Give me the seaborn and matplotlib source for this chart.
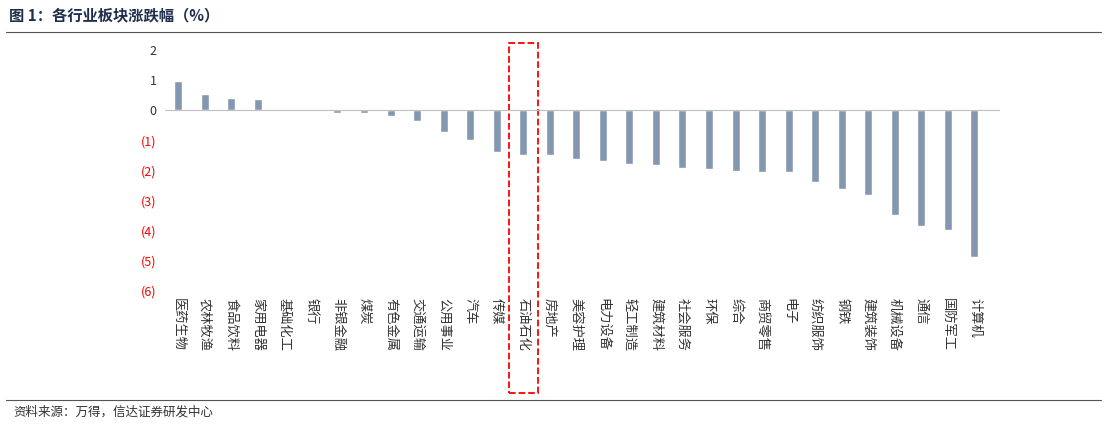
import matplotlib
matplotlib.use("Agg")
import matplotlib.pyplot as plt
import matplotlib.transforms as mtransforms
from matplotlib.patches import Rectangle
import pandas as pd
import seaborn as sns

sns.set_style("white")
plt.rcParams["font.family"] = ["Noto Sans CJK SC", "DejaVu Sans"]
plt.rcParams["axes.unicode_minus"] = False

industries = ["医药生物", "农林牧渔", "食品饮料", "家用电器", "基础化工", "银行", "非银金融", "煤炭",
              "有色金属", "交通运输", "公用事业", "汽车", "传媒", "石油石化", "房地产", "美容护理",
              "电力设备", "轻工制造", "建筑材料", "社会服务", "环保", "综合", "商贸零售", "电子",
              "纺织服饰", "钢铁", "建筑装饰", "机械设备", "通信", "国防军工", "计算机"]
changes = [0.97, 0.55, 0.40, 0.37, 0.01, 0.0, -0.10, -0.10, -0.20, -0.37, -0.73, -1.00, -1.40,
           -1.50, -1.50, -1.63, -1.70, -1.80, -1.83, -1.93, -1.97, -2.03, -2.05, -2.05, -2.40,
           -2.63, -2.83, -3.50, -3.87, -4.00, -4.90]
highlight = "石油石化"
y_ticks = [2, 1, 0, -1, -2, -3, -4, -5, -6]

df = pd.DataFrame({"行业": industries, "涨跌幅": changes})

fig = plt.figure(figsize=(11.07, 4.26), dpi=100)
ax = fig.add_axes([0.149, 0.319, 0.754, 0.563])
sns.barplot(data=df, x="行业", y="涨跌幅", color="#8497B0", width=0.3, ax=ax, saturation=1)

ax.set_xlim(-0.5, 30.95)
ax.set_ylim(-6, 2)
ax.set_yticks(y_ticks)
ax.set_yticklabels([str(v) if v >= 0 else f"({abs(v)})" for v in y_ticks], fontsize=9)
for lab, v in zip(ax.get_yticklabels(), y_ticks):
    lab.set_color("red" if v < 0 else "#333333")
ax.set_xticks(range(len(industries)))
ax.set_xticklabels(industries, fontsize=9.5, color="#333333", rotation=-90,
                   va="top", ha="center")
ax.tick_params(axis="both", length=0, pad=6)
ax.axhline(0, color="#bfbfbf", lw=0.8)
for s in ["top", "right", "bottom", "left"]:
    ax.spines[s].set_visible(False)
ax.set_xlabel("")
ax.set_ylabel("")

# 高亮框
i = industries.index(highlight)
trans = mtransforms.blended_transform_factory(ax.transData, fig.transFigure)
ax.add_patch(Rectangle((i - 0.55, 0.077), 1.1, 0.822, transform=trans, fill=False,
                       edgecolor="red", ls="--", lw=1.3, clip_on=False))

fig.text(0.008, 0.965, "图 1：各行业板块涨跌幅（%）", fontsize=11, fontweight="bold",
         color="#1f2d4d", va="center")
fig.add_artist(plt.Line2D([0.005, 0.995], [0.925, 0.925], color="#555555", lw=0.8))
fig.add_artist(plt.Line2D([0.005, 0.995], [0.06, 0.06], color="#555555", lw=0.8))
fig.text(0.012, 0.032, "资料来源：万得，信达证券研发中心", fontsize=9, style="italic",
         color="#333333", va="center")

fig.savefig("out.png", dpi=100)
